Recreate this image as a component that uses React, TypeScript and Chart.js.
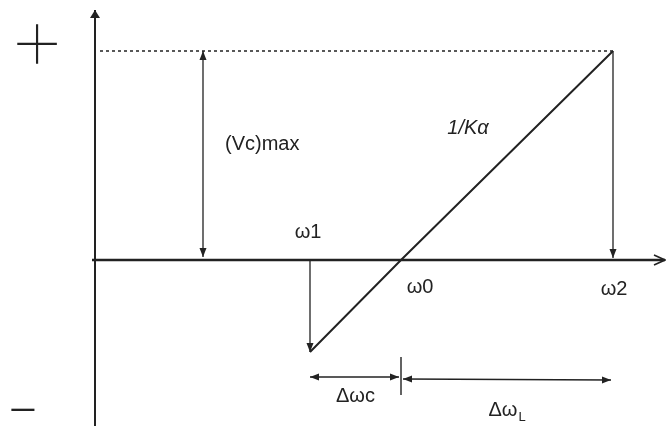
import React, { useEffect, useRef } from "react";
import { Chart, registerables } from "chart.js";

Chart.register(...registerables);

// Frequency points on the horizontal axis (ω1 < ω0 < ω2)
const freqLabels = ["ω1", "ω0", "ω2"];
const freqValues = [-0.91, 0, 2.12];
// Control voltage along the 1/Kα characteristic at those frequencies
const responseValues = [-0.92, 0, 2.09];
// Peak control voltage (Vc)max
const vcMax = 2.09;
// Where the (Vc)max dimension sits, and the level of the Δω dimensions
const vcArrowAt = -1.98;
const spanLevel = -1.17;
// Axis extents
const yAxisAt = -3.06;
const xAxisRange = [-3.09, 2.64];
const yAxisRange = [-1.66, 2.5];
// Text labels
const slopeLabel = "1/Kα";
const vcLabel = "(Vc)max";
const spanLabels = ["Δωc", "Δω"];
const spanSub = "L";
const signLabels = ["+", "−"];

const INK = "#222222";
const FONT = '"Liberation Sans", Arial, sans-serif';

type P = { x: number; y: number };

function arrowHead(ctx: CanvasRenderingContext2D, from: P, to: P, len: number, half: number, open: boolean) {
  const ang = Math.atan2(to.y - from.y, to.x - from.x);
  const bx = to.x - Math.cos(ang) * len;
  const by = to.y - Math.sin(ang) * len;
  const nx = -Math.sin(ang) * half;
  const ny = Math.cos(ang) * half;
  ctx.beginPath();
  ctx.moveTo(bx + nx, by + ny);
  ctx.lineTo(to.x, to.y);
  ctx.lineTo(bx - nx, by - ny);
  if (open) {
    ctx.lineWidth = 1.6;
    ctx.stroke();
  } else {
    ctx.closePath();
    ctx.fill();
  }
}

const diagramPlugin = {
  id: "diagramMarks",
  afterDatasetsDraw(chart: any) {
    const ctx: CanvasRenderingContext2D = chart.ctx;
    const xs = chart.scales.x;
    const ys = chart.scales.y;
    const px = (v: number) => xs.getPixelForValue(v);
    const py = (v: number) => ys.getPixelForValue(v);
    ctx.save();
    ctx.fillStyle = INK;
    ctx.strokeStyle = INK;

    // arrowheads on line datasets
    chart.data.datasets.forEach((ds: any, i: number) => {
      const meta = chart.getDatasetMeta(i);
      const pts = meta.data.map((e: any) => ({ x: e.x, y: e.y }));
      if (pts.length < 2) return;
      const len = ds.headLen ?? 9;
      const half = ds.headHalf ?? 3.5;
      if (ds.arrowEnd) arrowHead(ctx, pts[pts.length - 2], pts[pts.length - 1], len, half, !!ds.openHead);
      if (ds.arrowStart) arrowHead(ctx, pts[1], pts[0], len, half, !!ds.openHead);
    });

    ctx.textBaseline = "middle";
    ctx.textAlign = "center";
    ctx.font = `20px ${FONT}`;

    // frequency labels
    ctx.fillText(freqLabels[0], px(freqValues[0]) - 2, py(0) - 28);
    ctx.fillText(freqLabels[1], px(freqValues[1]) + 19, py(0) + 27);
    ctx.fillText(freqLabels[2], px(freqValues[2]) + 1, py(0) + 29);

    // (Vc)max label beside its dimension line
    ctx.textAlign = "left";
    ctx.fillText(vcLabel, px(vcArrowAt) + 22, py(vcMax * 0.555));

    // slope label
    ctx.textAlign = "center";
    ctx.font = `italic 20px ${FONT}`;
    ctx.fillText(slopeLabel, px(freqValues[2] * 0.316), py(vcMax * 0.63));

    // Δω span labels
    ctx.font = `20px ${FONT}`;
    const midC = (freqValues[0] + freqValues[1]) / 2;
    const midL = (freqValues[1] + freqValues[2]) / 2;
    ctx.fillText(spanLabels[0], px(midC), py(spanLevel) + 19);
    const lx = px(midL) - 4;
    const ly = py(spanLevel) + 33;
    ctx.fillText(spanLabels[1], lx, ly);
    const w = ctx.measureText(spanLabels[1]).width;
    ctx.font = `13px ${FONT}`;
    ctx.textAlign = "left";
    ctx.fillText(spanSub, lx + w / 2 + 1, ly + 7);

    // polarity signs beside the vertical axis
    ctx.textAlign = "center";
    ctx.font = `100 96px Inter, ${FONT}`;
    ctx.fillText(signLabels[0], px(yAxisAt) - 58, py(vcMax) - 9);
    ctx.font = `200 54px Inter, ${FONT}`;
    ctx.fillText(signLabels[1], px(yAxisAt) - 72, py(yAxisRange[0]) - 17);

    ctx.restore();
  },
};

function line(data: P[], extra: any = {}) {
  return {
    data,
    showLine: true,
    borderColor: INK,
    backgroundColor: INK,
    borderWidth: 1.3,
    pointRadius: 0,
    pointHoverRadius: 0,
    clip: false,
    ...extra,
  };
}

export default function App() {
  const ref = useRef<HTMLCanvasElement | null>(null);

  useEffect(() => {
    if (!ref.current) return;
    const w1 = freqValues[0];
    const w0 = freqValues[1];
    const w2 = freqValues[2];
    const chart = new Chart(ref.current, {
      type: "scatter",
      data: {
        datasets: [
          // horizontal (frequency) axis
          line([{ x: xAxisRange[0], y: 0 }, { x: xAxisRange[1], y: 0 }], {
            borderWidth: 2.4, arrowEnd: true, openHead: true, headLen: 11, headHalf: 5,
          }),
          // vertical (voltage) axis
          line([{ x: yAxisAt, y: yAxisRange[0] }, { x: yAxisAt, y: yAxisRange[1] }], {
            borderWidth: 2, arrowEnd: true, headLen: 8, headHalf: 5,
          }),
          // 1/Kα characteristic
          line(freqValues.map((f, i) => ({ x: f, y: responseValues[i] })), { borderWidth: 2 }),
          // (Vc)max level
          line([{ x: yAxisAt + 0.05, y: vcMax }, { x: w2, y: vcMax }], {
            borderWidth: 1.6, borderDash: [3, 3],
          }),
          // (Vc)max dimension
          line([{ x: vcArrowAt, y: vcMax }, { x: vcArrowAt, y: 0.03 }], {
            arrowStart: true, arrowEnd: true,
          }),
          // drop at ω2
          line([{ x: w2, y: responseValues[2] }, { x: w2, y: 0.02 }], { arrowEnd: true }),
          // drop at ω1
          line([{ x: w1, y: 0 }, { x: w1, y: responseValues[0] }], { arrowEnd: true }),
          // Δωc span
          line([{ x: w1, y: spanLevel }, { x: w0 - 0.02, y: spanLevel }], {
            arrowStart: true, arrowEnd: true,
          }),
          // ΔωL span
          line([{ x: w0 + 0.02, y: spanLevel - 0.02 }, { x: w2 - 0.02, y: spanLevel - 0.03 }], {
            arrowStart: true, arrowEnd: true,
          }),
          // marker at ω0 between the spans
          line([{ x: w0, y: spanLevel + 0.2 }, { x: w0, y: spanLevel - 0.18 }], { borderWidth: 1.4 }),
        ] as any,
      },
      options: {
        responsive: false,
        animation: false,
        devicePixelRatio: 1,
        layout: { padding: 0 },
        events: [],
        plugins: { legend: { display: false }, tooltip: { enabled: false } },
        scales: {
          x: { type: "linear", display: false, min: -4.01, max: 2.65 },
          y: { type: "linear", display: false, min: -1.72, max: 2.6 },
        },
      },
      plugins: [diagramPlugin],
    });
    return () => chart.destroy();
  }, []);

  return (
    <div style={{ position: "fixed", left: 0, top: 0, width: 666, height: 432, background: "#fff" }}>
      <canvas ref={ref} width={666} height={432} />
    </div>
  );
}
